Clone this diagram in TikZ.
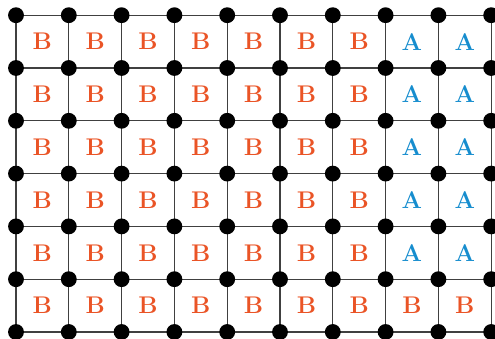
\documentclass[tikz,border=0pt]{standalone}
\usepackage{tikz}
\usetikzlibrary{positioning}
\definecolor{bcol}{RGB}{234,84,38}
\definecolor{acol}{RGB}{22,141,206}

\begin{document}
\begin{tikzpicture}[x=1.0cm,y=1.0cm,
    site/.style={circle,fill=black,inner sep=0pt,minimum size=0.30cm},
    bond/.style={black!75,line width=0.6pt},
    lab/.style={font=\fontsize{13}{15}\selectfont\bfseries}]
  \useasboundingbox (-0.303,-0.114) rectangle (9.072,6.288);
  % lattice points
  \foreach \i in {0,...,9}{\foreach \j in {0,...,6}{\coordinate (p-\i-\j) at (\i,\j);}}
  % bonds
  \foreach \j in {0,...,6}{\draw[bond] (p-0-\j) -- (p-9-\j);}
  \foreach \i in {0,...,9}{\draw[bond] (p-\i-0) -- (p-\i-6);}
  % sites
  \foreach \i in {0,...,9}{\foreach \j in {0,...,6}{\node[site] (s-\i-\j) at (p-\i-\j) {};}}
  % cell labels: A in the two right columns above the bottom row
  \foreach \i in {0,...,8}{
    \foreach \j in {0,...,5}{
      \pgfmathtruncatemacro\isA{(\i>6)&&(\j>0)}
      \ifnum\isA=1
        \node[lab,text=acol] (c-\i-\j) at (\i+0.5,\j+0.5) {A};
      \else
        \node[lab,text=bcol] (c-\i-\j) at (\i+0.5,\j+0.5) {B};
      \fi
    }
  }
\end{tikzpicture}
\end{document}
